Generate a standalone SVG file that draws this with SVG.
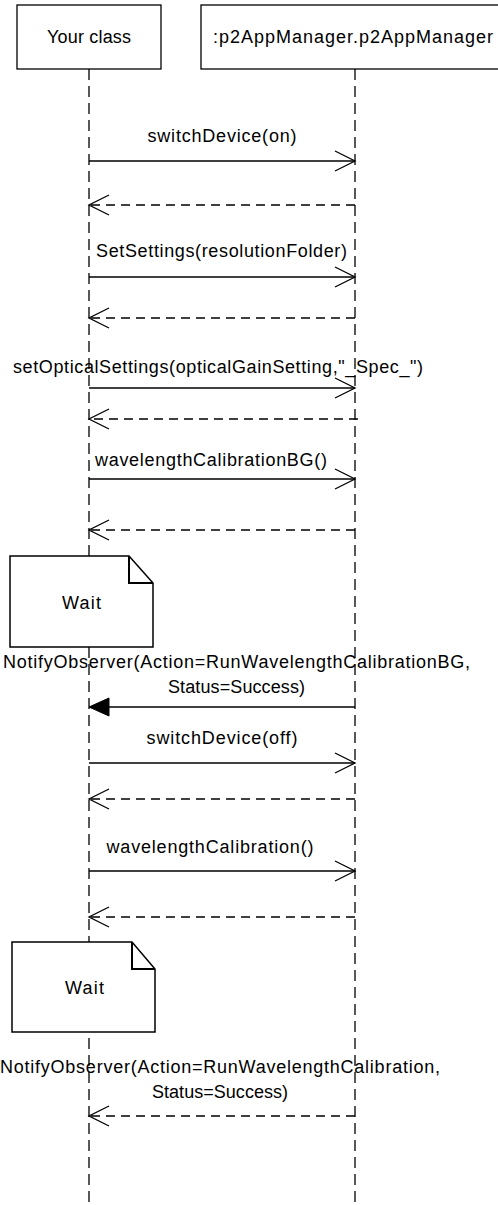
<svg xmlns="http://www.w3.org/2000/svg" width="498" height="1205" viewBox="0 0 498 1205">
<style>
text{font-family:"Liberation Sans",Arial,sans-serif;font-size:18px;fill:#000;text-anchor:middle}
.box{fill:#fff;stroke:#000;stroke-width:1.3}
.life{stroke:#000;stroke-width:1.3;stroke-dasharray:11 6;fill:none}
.msg{stroke:#000;stroke-width:1.3;fill:none}
.ret{stroke:#000;stroke-width:1.3;stroke-dasharray:9 6;fill:none}
.head{stroke:#000;stroke-width:1.3;fill:none}
.note{fill:#fff;stroke:#000;stroke-width:1.5}
.fold{fill:none;stroke:#000;stroke-width:2}
</style>
<rect width="498" height="1205" fill="#fff"/>
<g id="lifelines">
<line class="life" x1="89" y1="69" x2="89" y2="1205"/>
<line class="life" x1="355" y1="69" x2="355" y2="1205"/>
</g>
<g id="node-yourclass">
<rect class="box" x="17" y="5" width="144" height="64"/>
<text x="89" y="43" textLength="84">Your class</text>
</g>
<g id="node-p2appmanager">
<rect class="box" x="201" y="5" width="310" height="64"/>
<text x="353" y="43" textLength="280">:p2AppManager.p2AppManager</text>
</g>
<g id="connectors">
<line class="msg" x1="89" y1="161" x2="355" y2="161"/>
<polyline class="head" points="335,151 355,161 335,171"/>
<line class="ret" x1="355" y1="205" x2="89" y2="205"/>
<polyline class="head" points="109,195 89,205 109,215"/>

<line class="msg" x1="89" y1="277" x2="355" y2="277"/>
<polyline class="head" points="335,267 355,277 335,287"/>
<line class="ret" x1="355" y1="318" x2="89" y2="318"/>
<polyline class="head" points="109,308 89,318 109,328"/>

<line class="msg" x1="89" y1="388" x2="355" y2="388"/>
<polyline class="head" points="335,378 355,388 335,398"/>
<line class="ret" x1="358" y1="419" x2="89" y2="419"/>
<polyline class="head" points="109,409 89,419 109,429"/>

<line class="msg" x1="89" y1="479" x2="355" y2="479"/>
<polyline class="head" points="335,469 355,479 335,489"/>
<line class="ret" x1="355" y1="530" x2="89" y2="530"/>
<polyline class="head" points="109,520 89,530 109,540"/>

<line class="msg" x1="355" y1="707" x2="105" y2="707"/>
<polygon points="89,707 109,698 109,716" fill="#000" stroke="#000" stroke-width="1"/>

<line class="msg" x1="89" y1="763" x2="355" y2="763"/>
<polyline class="head" points="335,753 355,763 335,773"/>
<line class="ret" x1="355" y1="799" x2="89" y2="799"/>
<polyline class="head" points="109,789 89,799 109,809"/>

<line class="msg" x1="89" y1="871" x2="355" y2="871"/>
<polyline class="head" points="335,861 355,871 335,881"/>
<line class="ret" x1="355" y1="917" x2="89" y2="917"/>
<polyline class="head" points="109,907 89,917 109,927"/>

<line class="ret" x1="355" y1="1116" x2="89" y2="1116"/>
<polyline class="head" points="109,1106 89,1116 109,1126"/>
</g>
<g id="labels">
<text x="222" y="142" textLength="149">switchDevice(on)</text>
<text x="221.5" y="257" textLength="251">SetSettings(resolutionFolder)</text>
<text x="218" y="373" textLength="410">setOpticalSettings(opticalGainSetting,"_Spec_")</text>
<text x="211" y="466" textLength="232">wavelengthCalibrationBG()</text>
<text x="236.5" y="668" textLength="467">NotifyObserver(Action=RunWavelengthCalibrationBG,</text>
<text x="236.5" y="693" textLength="137">Status=Success)</text>
<text x="222" y="744" textLength="151">switchDevice(off)</text>
<text x="210" y="853" textLength="207">wavelengthCalibration()</text>
<text x="220" y="1073" textLength="440">NotifyObserver(Action=RunWavelengthCalibration,</text>
<text x="220" y="1098" textLength="136">Status=Success)</text>
</g>
<g id="note-wait-1">
<path class="note" d="M10,556 L129,556 L153,583 L153,647 L10,647 Z"/>
<path class="fold" d="M129,556 L129,583 L153,583"/>
<text x="81.5" y="609" textLength="39">Wait</text>
</g>
<g id="note-wait-2">
<path class="note" d="M12,942 L132,942 L155,969 L155,1032 L12,1032 Z"/>
<path class="fold" d="M132,942 L132,969 L155,969"/>
<text x="84.5" y="994" textLength="39">Wait</text>
</g>
</svg>
